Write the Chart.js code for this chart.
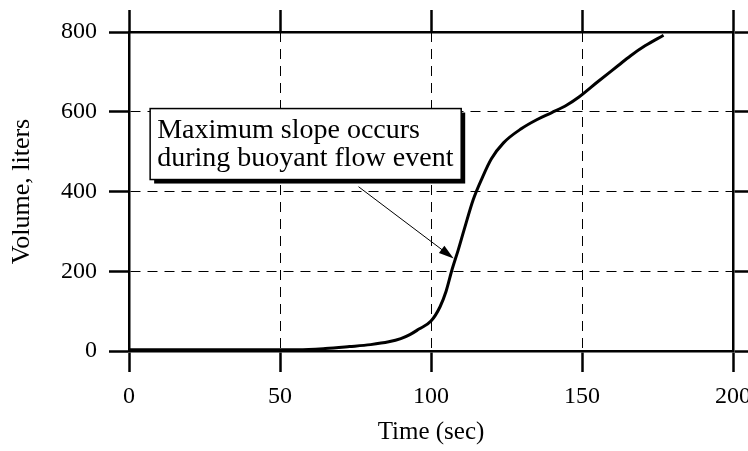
<!DOCTYPE html>
<html lang="en">
<head>
    <meta charset="utf-8">
    <title>Volume vs time</title>
    <script src="https://cdn.jsdelivr.net/npm/chart.js@4/dist/chart.umd.min.js"></script>
    <style>
        body { margin: 0; background: #fff; }
        canvas { display: block; }
    </style>
</head>
<body>
    <canvas id="volumeChart" width="748" height="451"></canvas>

    <script>
        // data
        const timeSec = [0, 20, 40, 56, 65, 73, 80, 86, 90, 93, 96, 100, 103, 105, 107, 109, 111, 114, 117, 120, 124, 130, 135, 140, 145, 149, 155, 162, 166, 171, 177];
        const volumeL = [3, 3, 3, 3, 6, 11, 16, 23, 31, 41, 55, 75, 111, 150, 205, 253, 305, 380, 435, 482, 522, 558, 580, 598, 617, 637, 674, 716, 740, 766, 792];
        const xTicks = [0, 50, 100, 150, 200];
        const yTicks = [0, 200, 400, 600, 800];
        const noteLines = ['Maximum slope occurs', 'during buoyant flow event'];

        const serif = '"Liberation Serif", "DejaVu Serif", serif';

        // annotation box + arrow, placed in data coordinates
        const notePlugin = {
            id: 'note',
            afterDatasetsDraw(chart) {
                const ctx = chart.ctx;
                const xs = chart.scales.x, ys = chart.scales.y;
                const x1 = xs.getPixelForValue(7), x2 = xs.getPixelForValue(110);
                const y1 = ys.getPixelForValue(608), y2 = ys.getPixelForValue(430);
                ctx.save();
                // shadow
                ctx.fillStyle = '#000';
                ctx.fillRect(x1 + 4, y1 + 4, x2 - x1, y2 - y1);
                ctx.fillStyle = '#fff';
                ctx.fillRect(x1, y1, x2 - x1, y2 - y1);
                ctx.strokeStyle = '#000';
                ctx.lineWidth = 1.5;
                ctx.strokeRect(x1, y1, x2 - x1, y2 - y1);
                ctx.fillStyle = '#000';
                ctx.font = '28px ' + serif;
                ctx.textBaseline = 'alphabetic';
                ctx.fillText(noteLines[0], x1 + 7, y1 + 29);
                ctx.fillText(noteLines[1], x1 + 7, y1 + 57);

                // arrow
                const ax = xs.getPixelForValue(76), ay = ys.getPixelForValue(412);
                const bx = xs.getPixelForValue(107.5), by = ys.getPixelForValue(232);
                const ang = Math.atan2(by - ay, bx - ax);
                ctx.lineWidth = 1;
                ctx.beginPath();
                ctx.moveTo(ax, ay);
                ctx.lineTo(bx - 8 * Math.cos(ang), by - 8 * Math.sin(ang));
                ctx.stroke();
                ctx.beginPath();
                ctx.moveTo(bx, by);
                ctx.lineTo(bx - 15 * Math.cos(ang) + 4.5 * Math.sin(ang), by - 15 * Math.sin(ang) - 4.5 * Math.cos(ang));
                ctx.lineTo(bx - 15 * Math.cos(ang) - 4.5 * Math.sin(ang), by - 15 * Math.sin(ang) + 4.5 * Math.cos(ang));
                ctx.closePath();
                ctx.fill();
                ctx.restore();
            }
        };

        const tickCb = (list) => function (scale) {
            scale.ticks = list.map(v => ({ value: v }));
        };
        // fixed axis boxes so the plot area lands where the original one is
        const fitBox = (w, h) => function (s) {
            if (w !== null) s.width = w;
            if (h !== null) s.height = h;
            s.paddingLeft = 0; s.paddingRight = 0;
            s.paddingTop = 0; s.paddingBottom = 0;
        };

        new Chart(document.getElementById('volumeChart'), {
            type: 'line',
            data: {
                datasets: [{
                    data: timeSec.map((t, i) => ({ x: t, y: volumeL[i] })),
                    borderColor: '#000',
                    borderWidth: 3,
                    pointRadius: 0,
                    cubicInterpolationMode: 'monotone',
                    fill: false
                }]
            },
            options: {
                responsive: false,
                animation: false,
                devicePixelRatio: 1,
                layout: { padding: 0 },
                plugins: { legend: { display: false }, tooltip: { enabled: false } },
                scales: {
                    x: {
                        type: 'linear', position: 'bottom', min: 0, max: 200,
                        afterBuildTicks: tickCb(xTicks),
                        afterFit: fitBox(null, 100),
                        ticks: { color: '#000', font: { family: serif, size: 24 }, padding: 10, maxRotation: 0 },
                        grid: { color: '#000', lineWidth: 1, tickLength: 21, tickWidth: 2.5, tickColor: '#000' },
                        border: { display: true, color: '#000', width: 2.5, dash: [10, 7] },
                        title: { display: true, text: 'Time (sec)', color: '#000', font: { family: serif, size: 25 }, padding: { top: 0, bottom: 4 } }
                    },
                    x2: {
                        type: 'linear', position: 'top', min: 0, max: 200,
                        afterBuildTicks: tickCb(xTicks),
                        afterFit: fitBox(null, 32),
                        ticks: { display: false },
                        grid: { drawOnChartArea: false, color: '#000', tickLength: 22, tickWidth: 2.5, tickColor: '#000' },
                        border: { display: true, color: '#000', width: 2.5 }
                    },
                    y: {
                        type: 'linear', position: 'left', min: 0, max: 800,
                        afterBuildTicks: tickCb(yTicks),
                        afterFit: fitBox(129, null),
                        ticks: { color: '#000', font: { family: serif, size: 24 }, padding: 12 },
                        grid: { color: '#000', lineWidth: 1, tickLength: 20, tickWidth: 2.5, tickColor: '#000' },
                        border: { display: true, color: '#000', width: 2.5, dash: [10, 7] },
                        title: { display: true, text: 'Volume, liters', color: '#000', font: { family: serif, size: 26 }, padding: { top: 7, bottom: 0 } }
                    },
                    y2: {
                        type: 'linear', position: 'right', min: 0, max: 800,
                        afterBuildTicks: tickCb(yTicks),
                        afterFit: fitBox(15, null),
                        ticks: { display: false },
                        grid: { drawOnChartArea: false, color: '#000', tickLength: 20, tickWidth: 2.5, tickColor: '#000' },
                        border: { display: true, color: '#000', width: 2.5 }
                    }
                }
            },
            plugins: [notePlugin]
        });
    </script>
</body>
</html>
